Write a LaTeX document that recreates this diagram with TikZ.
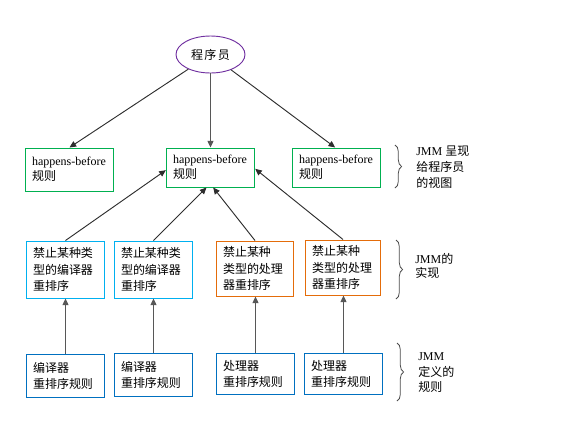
\documentclass[tikz,border=0pt]{standalone}
\usepackage{fontspec}
\setmainfont{Liberation Serif}
\newfontfamily\cjk{Noto Sans CJK SC}
\usetikzlibrary{arrows.meta,shapes.geometric,decorations.pathreplacing}
\definecolor{cgreen}{RGB}{0,176,80}
\definecolor{ccyan}{RGB}{0,176,240}
\definecolor{corange}{RGB}{228,108,10}
\definecolor{cblue}{RGB}{0,112,192}
\definecolor{cpurple}{RGB}{112,48,160}
\definecolor{carrow}{RGB}{45,45,45}
\tikzset{
  boxbase/.style={draw, rectangle, line width=0.75pt, inner xsep=5pt, inner ysep=2pt,
    align=left, font=\fontsize{9pt}{12pt}\selectfont, anchor=center},
  topbox/.style={boxbase, draw=cgreen, text width=56.25pt, minimum height=#1,
    font=\fontsize{9pt}{11.25pt}\selectfont},
  midcbox/.style={boxbase, draw=ccyan, text width=48.75pt, minimum height=42.75pt},
  midobox/.style={boxbase, draw=corange, text width=#1, minimum height=41.25pt},
  botbox/.style={boxbase, draw=cblue, text width=48.75pt, minimum height=#1},
  conn/.style={draw=carrow, line width=0.7pt, -{Triangle[length=5pt,width=4.5pt]}},
  connb/.style={draw=carrow!80, line width=0.9pt, -{Triangle[length=5pt,width=4.5pt]}},
  bracestyle/.style={draw=gray!60!black, line width=0.6pt, decorate,
    decoration={brace, amplitude=5pt}},
  sidelabel/.style={anchor=west, align=left, inner sep=0pt}
}
\begin{document}
\begin{tikzpicture}[x=0.75pt,y=-0.75pt]
\useasboundingbox (0,0) rectangle (569,422);
% programmer
\node[draw=cpurple, line width=0.7pt, ellipse, minimum width=51.75pt, minimum height=27.75pt,
  inner sep=0pt, font=\cjk\fontsize{9pt}{12pt}\selectfont] (prog) at (210.5,54.5) {程\kern1pt 序\kern1pt 员};
% top row
\node[topbox=32.25pt] (t1) at (69.5,169.5) {happens-before\\{\cjk 规则}};
\node[topbox=29.25pt] (t2) at (210.5,167.5) {happens-before\\{\cjk 规则}};
\node[topbox=29.25pt] (t3) at (336.5,167.5) {happens-before\\{\cjk 规则}};
% middle row
\node[midcbox, font=\cjk\fontsize{9pt}{12.4pt}\selectfont] (mA) at (65.5,269.5) {禁止某种类\\型的编译器\\重排序};
\node[midcbox, font=\cjk\fontsize{9pt}{12.4pt}\selectfont] (mB) at (153.5,269.5) {禁止某种类\\型的编译器\\重排序};
\node[midobox=48pt, font=\cjk\fontsize{9pt}{12.4pt}\selectfont] (mC) at (255,268.5) {禁止某种\\类型的处理\\器重排序};
\node[midobox=46.5pt, font=\cjk\fontsize{9pt}{12.4pt}\selectfont] (mD) at (343,267.5) {禁止某种\\类型的处理\\器重排序};
% bottom row
\node[botbox=32.25pt, font=\cjk\fontsize{9pt}{12pt}\selectfont] (bE) at (65.5,375.5) {编译器\\重排序规则};
\node[botbox=32.25pt, font=\cjk\fontsize{9pt}{12pt}\selectfont] (bF) at (153.5,374.5) {编译器\\重排序规则};
\node[botbox=30.75pt, font=\cjk\fontsize{9pt}{12pt}\selectfont] (bG) at (255.5,373.5) {处理器\\重排序规则};
\node[botbox=30.75pt, font=\cjk\fontsize{9pt}{12pt}\selectfont] (bH) at (343.5,373.5) {处理器\\重排序规则};
% connectors from programmer
\draw[conn] (prog) -- (t1.north);
\draw[connb] (prog.south) -- (t2.north);
\draw[conn] (prog) -- ([xshift=-1pt]t3.north);
% middle to top
\draw[conn] (mA.north) -- ([yshift=-2pt]t2.west);
\draw[conn] (mB.north) -- ([xshift=-3pt]t2.south);
\draw[conn] (mC.north) -- ([xshift=2pt]t2.south);
\draw[conn] (mD.north) -- ([yshift=-1pt]t2.east);
% bottom to middle
\draw[connb] (bE.north) -- (mA.south);
\draw[connb] (bF.north) -- (mB.south);
\draw[connb] (bG.north) -- (bG.north |- mC.south);
\draw[connb] (bH.north) -- (bH.north |- mD.south);
% braces
\coordinate (b1a) at (395,145);
\coordinate (b1b) at (395,188);
\coordinate (b2a) at (396,240);
\coordinate (b2b) at (396,299);
\coordinate (b3a) at (397,343);
\coordinate (b3b) at (397,401);
\draw[bracestyle] (b1a) -- (b1b);
\draw[bracestyle] (b2a) -- (b2b);
\draw[bracestyle] (b3a) -- (b3b);
% side labels
\node[sidelabel, font=\fontsize{9pt}{12pt}\selectfont] (l1) at (416,167) {JMM {\cjk 呈现}\\{\cjk 给程序员}\\{\cjk 的视图}};
\node[sidelabel, font=\fontsize{9pt}{10.5pt}\selectfont] (l2) at (415,266) {JMM{\cjk 的}\\{\cjk 实现}};
\node[sidelabel, font=\fontsize{9pt}{11.6pt}\selectfont] (l3) at (418,373) {JMM\\{\cjk 定义的}\\{\cjk 规则}};
\end{tikzpicture}
\end{document}
